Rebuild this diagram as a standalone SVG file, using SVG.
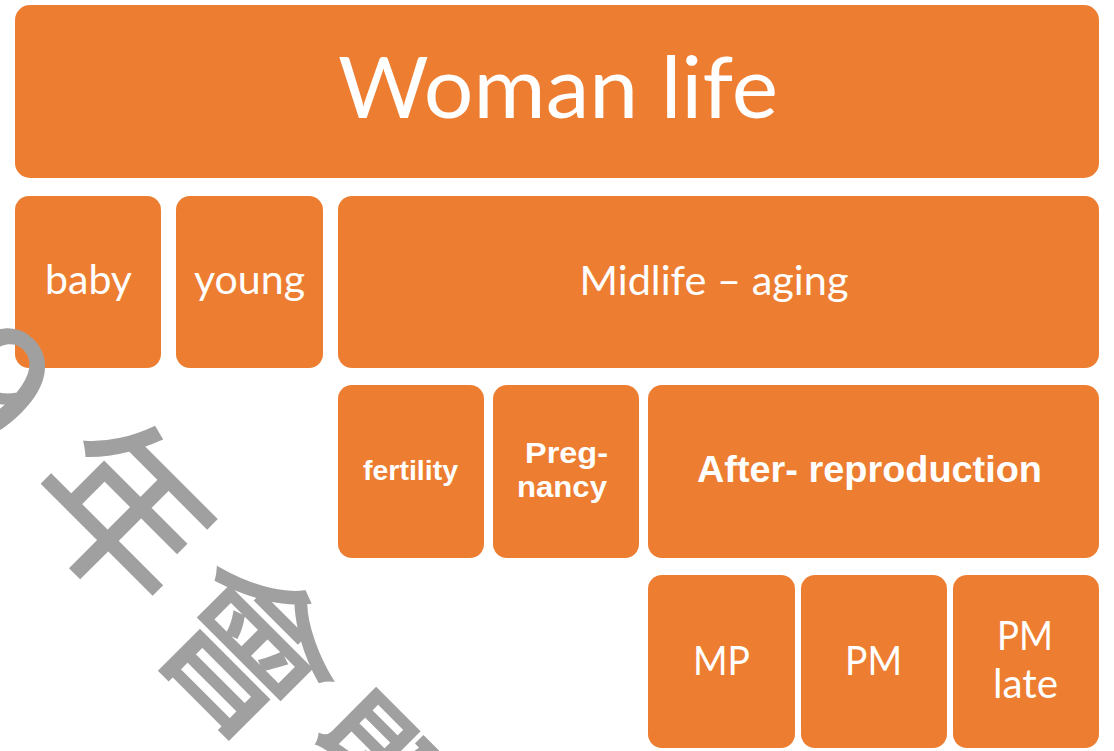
<svg xmlns="http://www.w3.org/2000/svg" width="1114" height="751" viewBox="0 0 1114 751">
  <style>
    .box { fill: #ED7D31; }
    .lt { font-family: Lato, "Noto Sans", sans-serif; fill: #FFFFFF; text-anchor: middle; }
    .bd { font-family: "Liberation Sans", Arial, sans-serif; font-weight: bold; fill: #FFFFFF; text-anchor: middle; }
    .wm { font-family: "Noto Sans CJK TC", "Noto Sans CJK SC", sans-serif; font-size: 172px; fill: #A0A0A0; stroke: #A0A0A0; stroke-width: 2.5; stroke-linejoin: miter; text-anchor: middle; dominant-baseline: central; }
  </style>
  <rect width="1114" height="751" fill="#FFFFFF"/>
  <g id="connectors"></g>
  <g id="node-woman-life">
    <rect class="box" x="15" y="5" width="1084" height="173" rx="15"/>
    <text class="lt" x="558" y="118" font-size="85" textLength="440" lengthAdjust="spacingAndGlyphs">Woman life</text>
  </g>
  <g id="node-baby">
    <rect class="box" x="15" y="196" width="146" height="172" rx="14"/>
    <text class="lt" x="88.5" y="294" font-size="40" textLength="87" lengthAdjust="spacingAndGlyphs">baby</text>
  </g>
  <g id="node-young">
    <rect class="box" x="176" y="196" width="147" height="172" rx="14"/>
    <text class="lt" x="249.5" y="294" font-size="40" textLength="111" lengthAdjust="spacingAndGlyphs">young</text>
  </g>
  <g id="node-midlife">
    <rect class="box" x="338" y="196" width="761" height="172" rx="14"/>
    <text class="lt" x="714" y="295" font-size="40" textLength="269" lengthAdjust="spacingAndGlyphs">Midlife – aging</text>
  </g>
  <g id="node-fertility">
    <rect class="box" x="338" y="385" width="146" height="173" rx="14"/>
    <text class="bd" x="410.5" y="480" font-size="27" textLength="95" lengthAdjust="spacingAndGlyphs">fertility</text>
  </g>
  <g id="node-pregnancy">
    <rect class="box" x="493" y="385" width="146" height="173" rx="14"/>
    <text class="bd" x="566.5" y="463" font-size="29" textLength="83" lengthAdjust="spacingAndGlyphs">Preg-</text>
    <text class="bd" x="562" y="497" font-size="29" textLength="90" lengthAdjust="spacingAndGlyphs">nancy</text>
  </g>
  <g id="node-after-reproduction">
    <rect class="box" x="648" y="385" width="451" height="173" rx="14"/>
    <text class="bd" x="869.5" y="482" font-size="36" textLength="345" lengthAdjust="spacingAndGlyphs">After- reproduction</text>
  </g>
  <g id="node-mp">
    <rect class="box" x="648" y="575" width="147" height="173" rx="14"/>
    <text class="lt" x="721.5" y="675" font-size="40" textLength="57" lengthAdjust="spacingAndGlyphs">MP</text>
  </g>
  <g id="node-pm">
    <rect class="box" x="801" y="575" width="146" height="173" rx="14"/>
    <text class="lt" x="873.5" y="675" font-size="40" textLength="57" lengthAdjust="spacingAndGlyphs">PM</text>
  </g>
  <g id="node-pm-late">
    <rect class="box" x="953" y="575" width="146" height="173" rx="14"/>
    <text class="lt" x="1025" y="650" font-size="40" textLength="56" lengthAdjust="spacingAndGlyphs">PM</text>
    <text class="lt" x="1025.5" y="698" font-size="40" textLength="65" lengthAdjust="spacingAndGlyphs">late</text>
  </g>
  <g id="watermark">
    <text class="wm" transform="translate(0,378) rotate(45)">9</text>
    <text class="wm" transform="translate(132,504) rotate(45)">年</text>
    <text class="wm" transform="translate(256,642) rotate(45)">會</text>
    <text class="wm" transform="translate(378,781) rotate(45)">暨</text>
  </g>
</svg>
